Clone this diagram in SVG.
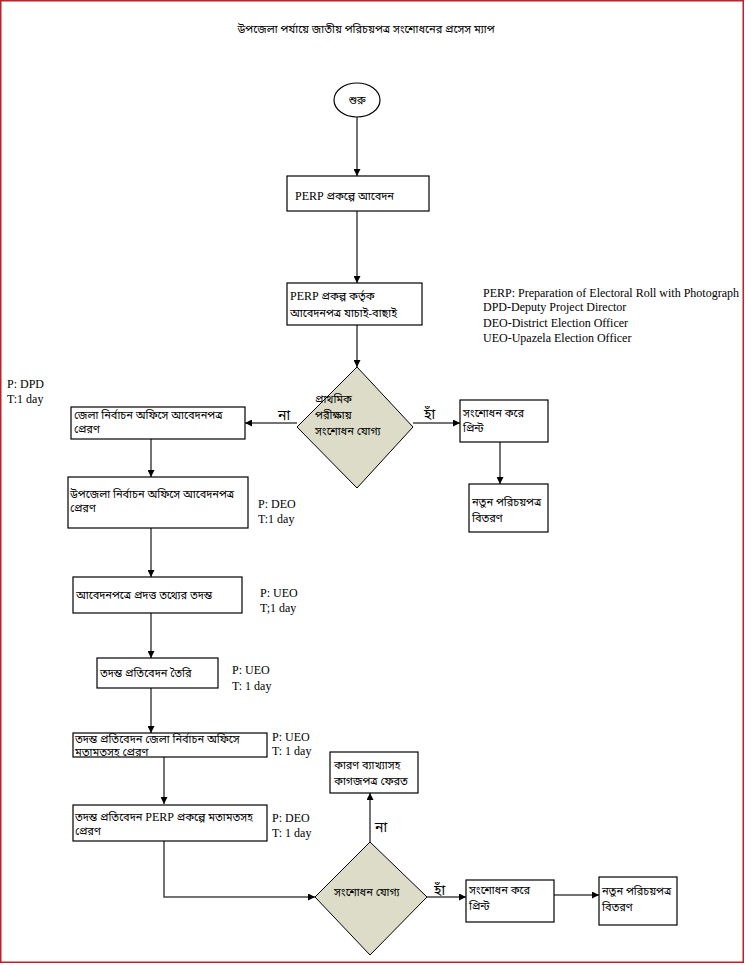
<svg xmlns="http://www.w3.org/2000/svg" width="745" height="965" viewBox="0 0 745 965">
<style>
.bn{font-family:"Noto Sans Bengali","Lohit Bengali","Noto Sans","Liberation Sans",sans-serif;font-size:11px;fill:#000}
.en{font-family:"Liberation Serif","Noto Serif Bengali","Noto Sans Bengali",serif;font-size:12px;fill:#000}
.box{fill:#fff;stroke:#000;stroke-width:1.2}
.dia{fill:#dcdcc8;stroke:#000;stroke-width:1}
.con{fill:none;stroke:#444;stroke-width:1.5}
.lbl{font-family:"Noto Sans Bengali","Lohit Bengali","Noto Sans",sans-serif;font-size:14px;fill:#000}
</style>
<defs>
<marker id="arr" viewBox="0 0 10 10" refX="10" refY="5" markerWidth="7" markerHeight="7" markerUnits="userSpaceOnUse" orient="auto">
<path d="M0,0 L10,5 L0,10 z" fill="#000"/>
</marker>
</defs>
<rect x="0.75" y="0.75" width="742.5" height="961.5" fill="#fff" stroke="#c0202a" stroke-width="1.5"/>
<text class="bn" x="366" y="33" text-anchor="middle" font-size="12.5">উপজেলা পর্যায়ে জাতীয় পরিচয়পত্র সংশোধনের প্রসেস ম্যাপ</text>

<g id="connectors">
<line class="con" x1="357" y1="117" x2="357" y2="176" marker-end="url(#arr)"/>
<line class="con" x1="357" y1="211" x2="357" y2="283" marker-end="url(#arr)"/>
<line class="con" x1="357" y1="325" x2="357" y2="367" marker-end="url(#arr)"/>
<line class="con" x1="297" y1="423" x2="245" y2="423" marker-end="url(#arr)"/>
<line class="con" x1="413" y1="423" x2="460" y2="423" marker-end="url(#arr)"/>
<line class="con" x1="500" y1="442" x2="500" y2="484" marker-end="url(#arr)"/>
<line class="con" x1="151" y1="439" x2="151" y2="477" marker-end="url(#arr)"/>
<line class="con" x1="151" y1="528" x2="151" y2="577" marker-end="url(#arr)"/>
<line class="con" x1="151" y1="613" x2="151" y2="658" marker-end="url(#arr)"/>
<line class="con" x1="151" y1="688" x2="151" y2="733" marker-end="url(#arr)"/>
<line class="con" x1="164" y1="757" x2="164" y2="804" marker-end="url(#arr)"/>
<polyline class="con" points="164,841 164,897 315,897" marker-end="url(#arr)"/>
<line class="con" x1="370" y1="842" x2="370" y2="793" marker-end="url(#arr)"/>
<line class="con" x1="427" y1="897" x2="466" y2="897" marker-end="url(#arr)"/>
<line class="con" x1="554" y1="895" x2="599" y2="895" marker-end="url(#arr)"/>
<text class="lbl" x="278" y="420">না</text>
<text class="lbl" x="424" y="419">হাঁ</text>
<text class="lbl" x="375" y="832">না</text>
<text class="lbl" x="434" y="895">হাঁ</text>
</g>

<g id="start">
<ellipse cx="357" cy="100" rx="23" ry="17" fill="#fff" stroke="#000" stroke-width="1.2"/>
<text class="bn" x="357" y="104" text-anchor="middle">শুরু</text>
</g>
<g id="apply">
<rect class="box" x="287" y="176" width="142" height="35"/>
<text class="bn" x="295" y="200"><tspan class="en">PERP</tspan> প্রকল্পে আবেদন</text>
</g>
<g id="screen">
<rect class="box" x="287" y="283" width="135" height="42"/>
<text class="bn" x="290" y="300"><tspan class="en">PERP</tspan> প্রকল্প কর্তৃক</text>
<text class="bn" x="290" y="317">আবেদনপত্র যাচাই-বাছাই</text>
</g>
<g id="decision1">
<polygon class="dia" points="357,367 413,427 357,488 297,427"/>
<text class="bn" x="315" y="403">প্রাথমিক</text>
<text class="bn" x="315" y="419">পরীক্ষায়</text>
<text class="bn" x="315" y="435">সংশোধন যোগ্য</text>
</g>
<g id="print1">
<rect class="box" x="460" y="400" width="88" height="42"/>
<text class="bn" x="463" y="417">সংশোধন করে</text>
<text class="bn" x="463" y="432">প্রিন্ট</text>
</g>
<g id="deliver1">
<rect class="box" x="469" y="484" width="79" height="48"/>
<text class="bn" x="472" y="506">নতুন পরিচয়পত্র</text>
<text class="bn" x="472" y="522">বিতরণ</text>
</g>
<g id="legend">
<text class="en" x="483" y="297">PERP: Preparation of Electoral Roll with Photograph</text>
<text class="en" x="483" y="311">DPD-Deputy Project Director</text>
<text class="en" x="483" y="327">DEO-District Election Officer</text>
<text class="en" x="483" y="342">UEO-Upazela Election Officer</text>
</g>
<g id="send-district">
<rect class="box" x="71" y="407" width="174" height="32"/>
<text class="bn" x="74" y="419">জেলা নির্বাচন অফিসে আবেদনপত্র</text>
<text class="bn" x="74" y="433">প্রেরণ</text>
<text class="en" x="7" y="388">P: DPD</text>
<text class="en" x="7" y="403">T:1 day</text>
</g>
<g id="send-upazila">
<rect class="box" x="68" y="477" width="180" height="51"/>
<text class="bn" x="70" y="498">উপজেলা নির্বাচন অফিসে আবেদনপত্র</text>
<text class="bn" x="70" y="512">প্রেরণ</text>
<text class="en" x="258" y="508">P: DEO</text>
<text class="en" x="258" y="523">T:1 day</text>
</g>
<g id="investigate">
<rect class="box" x="73" y="577" width="169" height="36"/>
<text class="bn" x="76" y="599">আবেদনপত্রে প্রদত্ত তথ্যের তদন্ত</text>
<text class="en" x="260" y="597">P: UEO</text>
<text class="en" x="260" y="612">T;1 day</text>
</g>
<g id="report">
<rect class="box" x="97" y="658" width="121" height="30"/>
<text class="bn" x="100" y="677">তদন্ত প্রতিবেদন তৈরি</text>
<text class="en" x="232" y="674">P: UEO</text>
<text class="en" x="232" y="690">T: 1 day</text>
</g>
<g id="report-district">
<rect class="box" x="73" y="733" width="194" height="24"/>
<text class="bn" x="75" y="743">তদন্ত প্রতিবেদন জেলা নির্বাচন অফিসে</text>
<text class="bn" x="75" y="756">মতামতসহ প্রেরণ</text>
<text class="en" x="272" y="741">P: UEO</text>
<text class="en" x="272" y="755">T: 1 day</text>
</g>
<g id="report-perp">
<rect class="box" x="73" y="805" width="194" height="36"/>
<text class="bn" x="75" y="821">তদন্ত প্রতিবেদন <tspan class="en">PERP</tspan> প্রকল্পে মতামতসহ</text>
<text class="bn" x="75" y="835">প্রেরণ</text>
<text class="en" x="272" y="822">P: DEO</text>
<text class="en" x="272" y="837">T: 1 day</text>
</g>
<g id="decision2">
<polygon class="dia" points="370,842 427,897 370,955 315,897"/>
<text class="bn" x="334" y="896">সংশোধন যোগ্য</text>
</g>
<g id="return">
<rect class="box" x="330" y="752" width="88" height="41"/>
<text class="bn" x="334" y="769">কারণ ব্যাখ্যাসহ</text>
<text class="bn" x="334" y="785">কাগজপত্র ফেরত</text>
</g>
<g id="print2">
<rect class="box" x="466" y="880" width="88" height="42"/>
<text class="bn" x="469" y="894">সংশোধন করে</text>
<text class="bn" x="469" y="910">প্রিন্ট</text>
</g>
<g id="deliver2">
<rect class="box" x="599" y="877" width="78" height="48"/>
<text class="bn" x="602" y="895">নতুন পরিচয়পত্র</text>
<text class="bn" x="602" y="911">বিতরণ</text>
</g>
</svg>
